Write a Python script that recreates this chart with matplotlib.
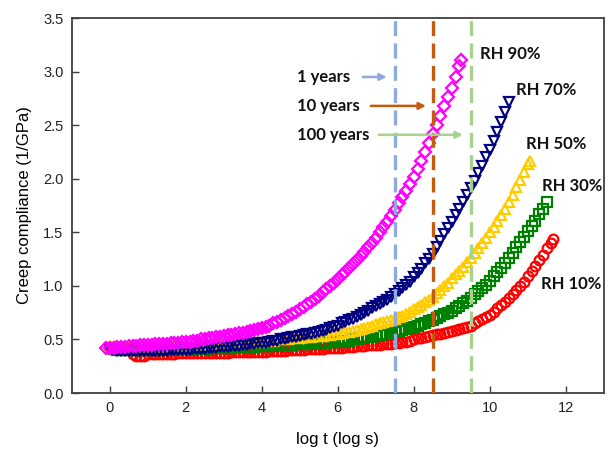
import numpy as np
import matplotlib
matplotlib.use("Agg")
import matplotlib.pyplot as plt

# creep compliance (1/GPa) vs log t (log s) at 0.1 log-s steps
rh90_x = np.r_[np.round(np.arange(-0.1, 9.25, 0.1), 2), 9.25]
rh90_y = [0.42,
          0.42, 0.42, 0.43, 0.43, 0.43, 0.44, 0.44, 0.44, 0.45, 0.45,
          0.45, 0.45, 0.46, 0.46, 0.46, 0.46, 0.47, 0.47, 0.47, 0.48,
          0.48, 0.48, 0.49, 0.49, 0.50, 0.50, 0.51, 0.51, 0.52, 0.52,
          0.53, 0.54, 0.54, 0.55, 0.56, 0.56, 0.57, 0.58, 0.59, 0.60,
          0.61, 0.62, 0.63, 0.65, 0.66, 0.68, 0.70, 0.72, 0.74, 0.76,
          0.78, 0.80, 0.83, 0.85, 0.88, 0.91, 0.94, 0.97, 1.00, 1.03,
          1.06, 1.10, 1.13, 1.17, 1.20, 1.24, 1.28, 1.32, 1.36, 1.40,
          1.45, 1.50, 1.55, 1.60, 1.65, 1.71, 1.77, 1.83, 1.89, 1.95,
          2.02, 2.09, 2.17, 2.25, 2.33, 2.42, 2.50, 2.59, 2.68, 2.76,
          2.85, 2.95, 3.05, 3.11]

rh70_x = np.round(np.arange(0, 10.55, 0.1), 2)
rh70_y = [0.41, 0.40, 0.39, 0.39, 0.39, 0.39, 0.39, 0.39, 0.39, 0.39,
          0.39, 0.39, 0.39, 0.39, 0.39, 0.39, 0.40, 0.40, 0.40, 0.40,
          0.40, 0.40, 0.41, 0.41, 0.41, 0.41, 0.42, 0.42, 0.42, 0.43,
          0.43, 0.43, 0.44, 0.44, 0.44, 0.45, 0.45, 0.46, 0.46, 0.47,
          0.47, 0.47, 0.48, 0.49, 0.49, 0.50, 0.50, 0.51, 0.52, 0.52,
          0.53, 0.54, 0.55, 0.55, 0.56, 0.57, 0.58, 0.59, 0.61, 0.62,
          0.63, 0.65, 0.66, 0.68, 0.69, 0.71, 0.73, 0.75, 0.77, 0.79,
          0.81, 0.83, 0.85, 0.87, 0.90, 0.92, 0.95, 0.98, 1.01, 1.04,
          1.08, 1.12, 1.16, 1.21, 1.25, 1.30, 1.36, 1.42, 1.48, 1.54,
          1.60, 1.66, 1.72, 1.78, 1.85, 1.91, 1.98, 2.05, 2.12, 2.20,
          2.27, 2.35, 2.44, 2.53, 2.62, 2.72]

rh50_x = np.r_[np.round(np.arange(0, 11.05, 0.1), 2), 11.05]
rh50_y = [0.44, 0.44, 0.43, 0.43, 0.43, 0.43, 0.43, 0.43, 0.43, 0.43,
          0.43, 0.43, 0.43, 0.43, 0.44, 0.44, 0.44, 0.44, 0.44, 0.44,
          0.44, 0.44, 0.45, 0.45, 0.45, 0.45, 0.45, 0.46, 0.46, 0.46,
          0.46, 0.46, 0.47, 0.47, 0.47, 0.47, 0.48, 0.48, 0.48, 0.48,
          0.48, 0.49, 0.49, 0.49, 0.50, 0.50, 0.50, 0.50, 0.51, 0.51,
          0.51, 0.52, 0.52, 0.52, 0.53, 0.53, 0.53, 0.54, 0.54, 0.55,
          0.55, 0.56, 0.57, 0.57, 0.58, 0.59, 0.60, 0.61, 0.62, 0.63,
          0.64, 0.65, 0.66, 0.67, 0.68, 0.69, 0.71, 0.72, 0.74, 0.76,
          0.78, 0.80, 0.82, 0.85, 0.87, 0.90, 0.93, 0.96, 1.00, 1.03,
          1.07, 1.11, 1.14, 1.18, 1.22, 1.26, 1.31, 1.35, 1.40, 1.45,
          1.50, 1.55, 1.61, 1.66, 1.72, 1.78, 1.85, 1.92, 1.99, 2.06,
          2.14, 2.17]

rh30_x = np.round(np.arange(0, 11.55, 0.1), 2)
rh30_y = [0.42, 0.41, 0.40, 0.40, 0.40, 0.40, 0.40, 0.40, 0.40, 0.40,
          0.40, 0.40, 0.40, 0.40, 0.40, 0.40, 0.41, 0.41, 0.41, 0.41,
          0.41, 0.41, 0.41, 0.41, 0.41, 0.41, 0.42, 0.42, 0.42, 0.42,
          0.42, 0.42, 0.42, 0.42, 0.43, 0.43, 0.43, 0.43, 0.43, 0.44,
          0.44, 0.44, 0.44, 0.44, 0.45, 0.45, 0.45, 0.45, 0.45, 0.46,
          0.46, 0.46, 0.46, 0.46, 0.47, 0.47, 0.47, 0.47, 0.48, 0.48,
          0.48, 0.48, 0.49, 0.49, 0.50, 0.50, 0.51, 0.51, 0.52, 0.52,
          0.53, 0.54, 0.55, 0.55, 0.56, 0.57, 0.58, 0.59, 0.60, 0.61,
          0.62, 0.63, 0.64, 0.65, 0.67, 0.68, 0.70, 0.72, 0.74, 0.75,
          0.77, 0.79, 0.81, 0.84, 0.86, 0.89, 0.92, 0.95, 0.98, 1.01,
          1.05, 1.09, 1.13, 1.17, 1.21, 1.26, 1.31, 1.36, 1.41, 1.46,
          1.51, 1.56, 1.61, 1.67, 1.72, 1.78]

rh10_x = np.r_[np.round(np.arange(0.6, 11.65, 0.1), 2), 11.66]
rh10_y = [0.36, 0.35, 0.35, 0.35,
          0.36, 0.36, 0.36, 0.36, 0.36, 0.36, 0.36, 0.36, 0.37, 0.37,
          0.37, 0.37, 0.37, 0.37, 0.37, 0.37, 0.37, 0.37, 0.37, 0.37,
          0.37, 0.37, 0.38, 0.38, 0.38, 0.38, 0.38, 0.38, 0.38, 0.38,
          0.38, 0.38, 0.39, 0.39, 0.39, 0.39, 0.39, 0.40, 0.40, 0.40,
          0.40, 0.40, 0.41, 0.41, 0.41, 0.41, 0.41, 0.42, 0.42, 0.42,
          0.42, 0.42, 0.43, 0.43, 0.43, 0.44, 0.44, 0.44, 0.45, 0.45,
          0.45, 0.45, 0.46, 0.46, 0.46, 0.47, 0.47, 0.48, 0.48, 0.49,
          0.50, 0.51, 0.51, 0.52, 0.53, 0.54, 0.55, 0.55, 0.56, 0.57,
          0.58, 0.59, 0.60, 0.61, 0.62, 0.63, 0.65, 0.67, 0.69, 0.71,
          0.73, 0.76, 0.79, 0.82, 0.85, 0.89, 0.92, 0.96, 1.00, 1.04,
          1.09, 1.14, 1.19, 1.24, 1.29, 1.35, 1.40, 1.44]

# service-life markers (log s)
year_lines = [7.5, 8.5, 9.5]
year_labels = ["1 years", "10 years", "100 years"]
year_colors = ["#8FAADC", "#C55A11", "#A9D18E"]

fig = plt.figure(figsize=(6.13, 4.51), dpi=100)
ax = fig.add_axes([0.117, 0.1286, 0.868, 0.8314])

series = [
    (rh10_x, rh10_y, "o", "#FF0000", "RH 10%", (11.34, 1.02)),
    (rh30_x, rh30_y, "s", "#008000", "RH 30%", (11.37, 1.93)),
    (rh50_x, rh50_y, "^", "#FFCC00", "RH 50%", (10.95, 2.32)),
    (rh70_x, rh70_y, "v", "#000080", "RH 70%", (10.7, 2.83)),
    (rh90_x, rh90_y, "D", "#FF00FF", "RH 90%", (9.74, 3.16)),
]
for xs, ys, mk, col, lab, pos in series:
    assert len(xs) == len(ys), lab
    ax.plot(xs, ys, linestyle="none", marker=mk, markersize=7 if mk != "D" else 6.5,
            markerfacecolor="none", markeredgecolor=col, markeredgewidth=1.6)
    ax.text(pos[0], pos[1], lab, fontsize=12, fontweight="bold", family="Lato",
            ha="left", va="center", color="#111111")

for xv, col in zip(year_lines, year_colors):
    ax.axvline(xv, color=col, linewidth=2.4, linestyle=(0, (4.5, 2.2)), zorder=3)

# arrow labels
label_y = [2.95, 2.68, 2.41]
arrow_start = [6.66, 6.87, 7.08]
arrow_end = [7.29, 8.32, 9.29]
for lab, yv, x0, x1, col in zip(year_labels, label_y, arrow_start, arrow_end, year_colors):
    ax.text(4.93, yv, lab, fontsize=12, fontweight="bold", family="Lato",
            ha="left", va="center", color="#111111")
    ax.annotate("", xy=(x1, yv), xytext=(x0, yv),
                arrowprops=dict(arrowstyle="-|>", color=col, lw=1.8,
                                mutation_scale=10, shrinkA=0, shrinkB=0))

ax.set_xlim(-1, 13)
ax.set_ylim(0, 3.5)
ax.set_xticks([0, 2, 4, 6, 8, 10, 12])
ax.set_yticks([0.0, 0.5, 1.0, 1.5, 2.0, 2.5, 3.0, 3.5])
ax.set_yticklabels(["0.0", "0.5", "1.0", "1.5", "2.0", "2.5", "3.0", "3.5"])
ax.tick_params(direction="in", length=5, width=1, colors="#404040", labelcolor="#222222",
               labelsize=10.5, pad=6)
for lbl in ax.get_xticklabels() + ax.get_yticklabels():
    lbl.set_family("Liberation Sans")
for sp in ax.spines.values():
    sp.set_color("#404040")
    sp.set_linewidth(1.3)

ax.set_xlabel("log t (log s)", fontsize=12, family="Liberation Sans", labelpad=12)
ax.set_ylabel("Creep compliance (1/GPa)", fontsize=12, family="Liberation Sans", labelpad=8)

fig.savefig("out.png", dpi=100)
